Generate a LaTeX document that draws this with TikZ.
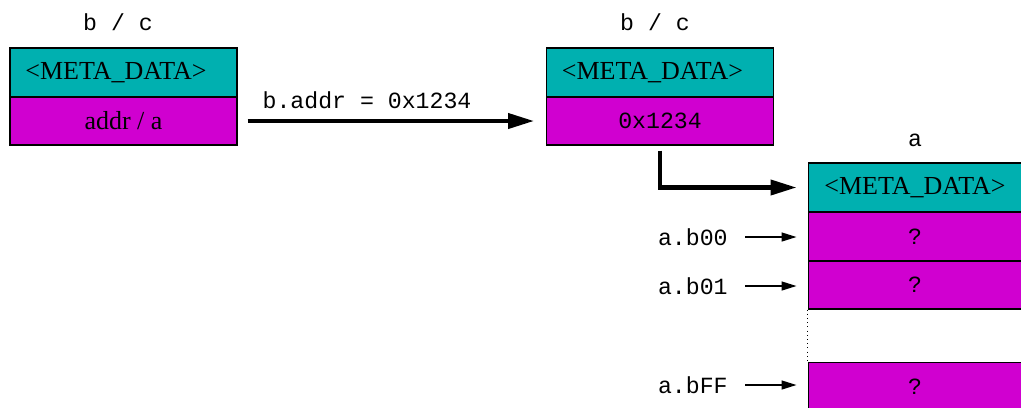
\documentclass[tikz,border=0pt]{standalone}
\usepackage{fontspec}
\setmainfont{Liberation Serif}
\setmonofont{Liberation Mono}
\usetikzlibrary{arrows.meta}
\definecolor{metacyan}{RGB}{0,176,176}
\definecolor{datamag}{RGB}{208,0,208}
\begin{document}
\begin{tikzpicture}[
  x=0.02cm, y=-0.02cm,
  every node/.style={font=\fontsize{14.8}{17}\selectfont},
  meta/.style={draw, line width=0.6pt, fill=metacyan, minimum width=4.54cm, minimum height=0.98cm, inner sep=0},
  cell/.style={draw, line width=0.6pt, fill=datamag, minimum width=4.54cm, minimum height=0.96cm, inner sep=0},
  mono/.style={font=\ttfamily\fontsize{13.2}{16}\selectfont},
  bigarrow/.style={line width=2.3pt, -{Triangle[length=0.52cm, width=0.3cm]}},
  smallarrow/.style={line width=0.8pt, -{Triangle[length=0.3cm, width=0.18cm]}}
]
\clip (0,0) rectangle (1021,407);

% b / c before
\node[mono] (bctitle) at (118,22) {b / c};
\node[meta] (bcmeta) at (123.5,72.5) {\hspace*{-0.3cm}<META\_DATA>};
\node[cell] (bcaddr) at (123.5,121) {addr / a};

% b / c after
\node[mono] (bctitle2) at (655,22) {b / c};
\node[meta] (bcmeta2) at (660,72.5) {\hspace*{-0.3cm}<META\_DATA>};
\node[cell, mono] (bcaddr2) at (660,121) {0x1234};

% a
\node[mono] (atitle) at (915,140) {a};
\node[meta, minimum width=4.28cm] (ameta) at (915,187.5) {<META\_DATA>};
\node[cell, mono, minimum width=4.28cm] (ab00) at (915,236.5) {?};
\node[cell, mono, minimum width=4.28cm] (ab01) at (915,285) {?};
\node[cell, mono, minimum width=4.28cm] (abFF) at (915,386.5) {?};
\draw[dotted] (ab01.south west) -- (abFF.north west);

% arrows
\node[mono] (assign) at (367,100) {b.addr = 0x1234};
\draw[bigarrow, shorten <=0.2cm, shorten >=0.24cm] (bcaddr.east) -- (bcaddr2.west);
\draw[bigarrow, shorten <=0.1cm, shorten >=0.22cm] (bcaddr2.south) |- (ameta.west);

\node[mono, inner sep=0, anchor=east] (lb00) at (728,237) {a.b00};
\node[mono, inner sep=0, anchor=east] (lb01) at (728,286) {a.b01};
\node[mono, inner sep=0, anchor=east] (lbFF) at (728,385) {a.bFF};
\draw[smallarrow, shorten <=0.34cm, shorten >=0.22cm] (lb00.east) -- (lb00.east -| ab00.west);
\draw[smallarrow, shorten <=0.34cm, shorten >=0.22cm] (lb01.east) -- (lb01.east -| ab01.west);
\draw[smallarrow, shorten <=0.34cm, shorten >=0.22cm] (lbFF.east) -- (lbFF.east -| abFF.west);
\end{tikzpicture}
\end{document}
